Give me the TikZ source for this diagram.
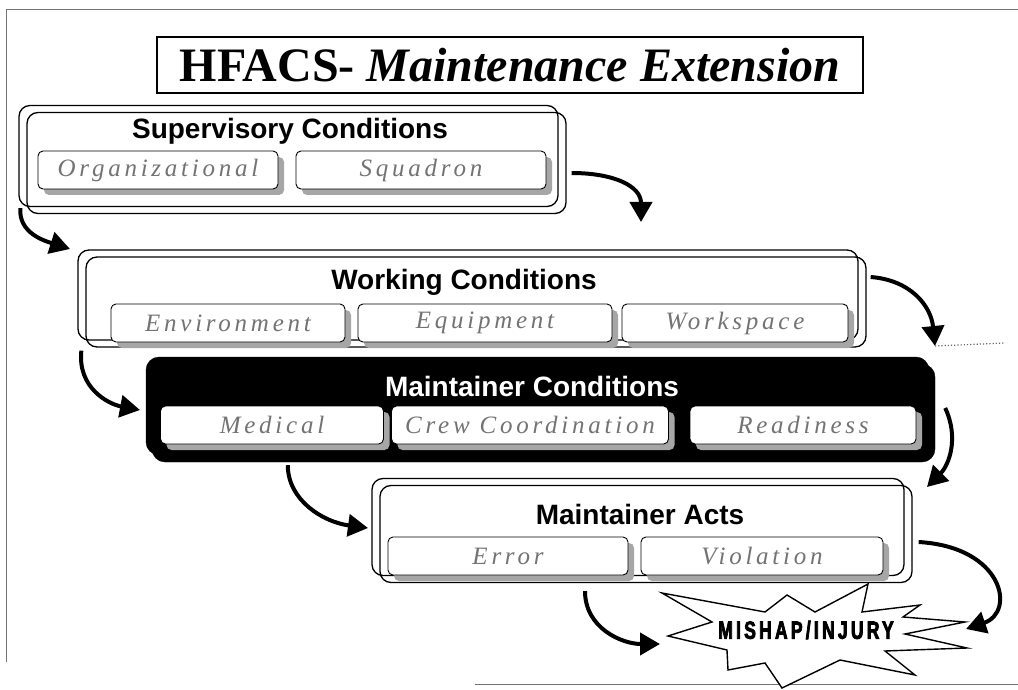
\documentclass[tikz,border=0pt]{standalone}
\usepackage{fontspec}
\setmainfont{Liberation Serif}
\newfontfamily\headfont{Liberation Sans}
\newfontfamily\itemfont[LetterSpace=15]{Liberation Serif}
\newfontfamily\burstfont[FakeStretch=0.7, LetterSpace=13, FakeBold=3]{Liberation Sans}
\usetikzlibrary{arrows.meta, shadows}
\tikzset{
  frameline/.style={draw=black!55, line width=0.8pt},
  titlebox/.style={draw, line width=1.2pt, minimum width=706, minimum height=56, inner sep=0pt},
  group/.style={draw, line width=1.3pt, rounded corners=11pt, inner sep=0pt,
    copy shadow={shadow xshift=-8pt, shadow yshift=7pt, draw=black, fill=none, line width=1.3pt}},
  darkgroup/.style={draw=black, fill=black, rounded corners=13pt, inner sep=0pt,
    copy shadow={shadow xshift=-6pt, shadow yshift=7pt, draw=black, fill=black}},
  head/.style={font=\headfont\bfseries\fontsize{28}{30}\selectfont},
  item/.style={draw, fill=white, line width=0.9pt, rounded corners=5pt, inner sep=0pt,
    minimum height=38, text=black!55, font=\itemfont\itshape\fontsize{25}{27}\selectfont,
    drop shadow={shadow xshift=6pt, shadow yshift=-6pt, fill=black!35, opacity=1}},
  flow/.style={line width=4pt, -{Triangle[length=20pt, width=22pt]}},
  burst/.style={draw, fill=white, line width=1.4pt, line join=miter},
  burstlabel/.style={font=\burstfont\bfseries\fontsize{25}{27}\selectfont},
}
\begin{document}
\begin{tikzpicture}[x=1pt, y=-1pt]
  \useasboundingbox (0,0) rectangle (1018,690);
  % page frame
  \draw[frameline] (1018,9) -- (6,9) -- (6,662);
  \draw[frameline] (475,684) -- (1018,684);
  % title
  \node[titlebox] (title) at (510,65)
    {\fontsize{48}{50}\selectfont\bfseries HFACS- \itshape Maintenance Extension};
  % supervisory conditions
  \node[group, minimum width=539, minimum height=101] (sup) at (296.5,163) {};
  \node[head] (suphead) at (290,131) {Supervisory Conditions};
  \node[item, minimum width=240] (org) at (158,170) {Organizational};
  \node[item, minimum width=250] (sqd) at (421,170) {Squadron};
  % working conditions
  \node[group, minimum width=780, minimum height=90] (work) at (476,302) {};
  \node[head] (workhead) at (464,282) {Working Conditions};
  \node[item, minimum width=234] (env) at (228,323) {Environment};
  \node[item, minimum width=254] (eqp) at (485,323) {Equipment};
  \node[item, minimum width=226] (wsp) at (735,323) {Workspace};
  % maintainer conditions
  \node[darkgroup, minimum width=783, minimum height=98] (maint) at (543.5,413) {};
  \node[head, text=white] (mainthead) at (532,386) {Maintainer Conditions};
  \node[item, minimum width=223] (med) at (272,425) {Medical};
  \node[item, minimum width=277] (crew) at (530,425) {Crew Coordination};
  \node[item, minimum width=226] (rdy) at (803,425) {Readiness};
  % maintainer acts
  \node[group, minimum width=532, minimum height=97] (acts) at (646,534) {};
  \node[head] (actshead) at (640,514) {Maintainer Acts};
  \node[item, minimum width=240] (err) at (508,556) {Error};
  \node[item, minimum width=242] (vio) at (762,556) {Violation};
  % mishap burst
  \draw[burst] (662,593) -- (765,612) -- (787,595) -- (815,612) -- (868,584) -- (862,612)
    -- (920,605) -- (903,617) -- (965,622) -- (905,634) -- (967,648) -- (885,651)
    -- (915,675) -- (840,660) -- (782,688) -- (765,663) -- (728,670) -- (727,650)
    -- (668,636) -- (712,622) -- cycle;
  \node[burstlabel] (mishap) at (806,630) {MISHAP/INJURY};
  % arrow ends
  \coordinate (intowork) at (641,222);
  \coordinate (intowork2) at (70,249);
  \coordinate (intoacts) at (935,346);
  \coordinate (trail) at (1005,343);
  \coordinate (intomaint) at (140,410);
  \coordinate (intoacts2) at (927,487);
  \coordinate (intoacts3) at (368,528);
  \coordinate (intomishap) at (966,629);
  \coordinate (intomishap2) at (660,644);
  % arrows
  \draw[flow] ([shift={(5,10)}]sup.east) .. controls +(42,0) and +(0,-36) .. (intowork);
  \draw[flow] ([shift={(-6,-6)}]sup.south west) .. controls +(-2,25) and +(-25,-8) .. (intowork2);
  \draw[flow] ([shift={(4,-25)}]work.east) .. controls +(40,3) and +(-4,-40) .. (intoacts);
  \draw[black!60, line width=1.2pt, dotted] (intoacts) -- (trail);
  \draw[flow] ([shift={(-4,3)}]work.south west) .. controls +(-4,37) and +(-32,-6) .. (intomaint);
  \draw[flow] ([shift={(10,-5)}]maint.east) .. controls +(14,30) and +(22,-22) .. (intoacts2);
  \draw[flow] ([shift={(136,3)}]maint.south west) .. controls +(0,35) and +(-45,-6) .. (intoacts3);
  \draw[flow] ([shift={(6,8)}]acts.east) .. controls +(85,5) and +(50,-17) .. (intomishap);
  \draw[flow] ([shift={(-61,8)}]acts.south) .. controls +(0,37) and +(-38,0) .. (intomishap2);
\end{tikzpicture}
\end{document}
